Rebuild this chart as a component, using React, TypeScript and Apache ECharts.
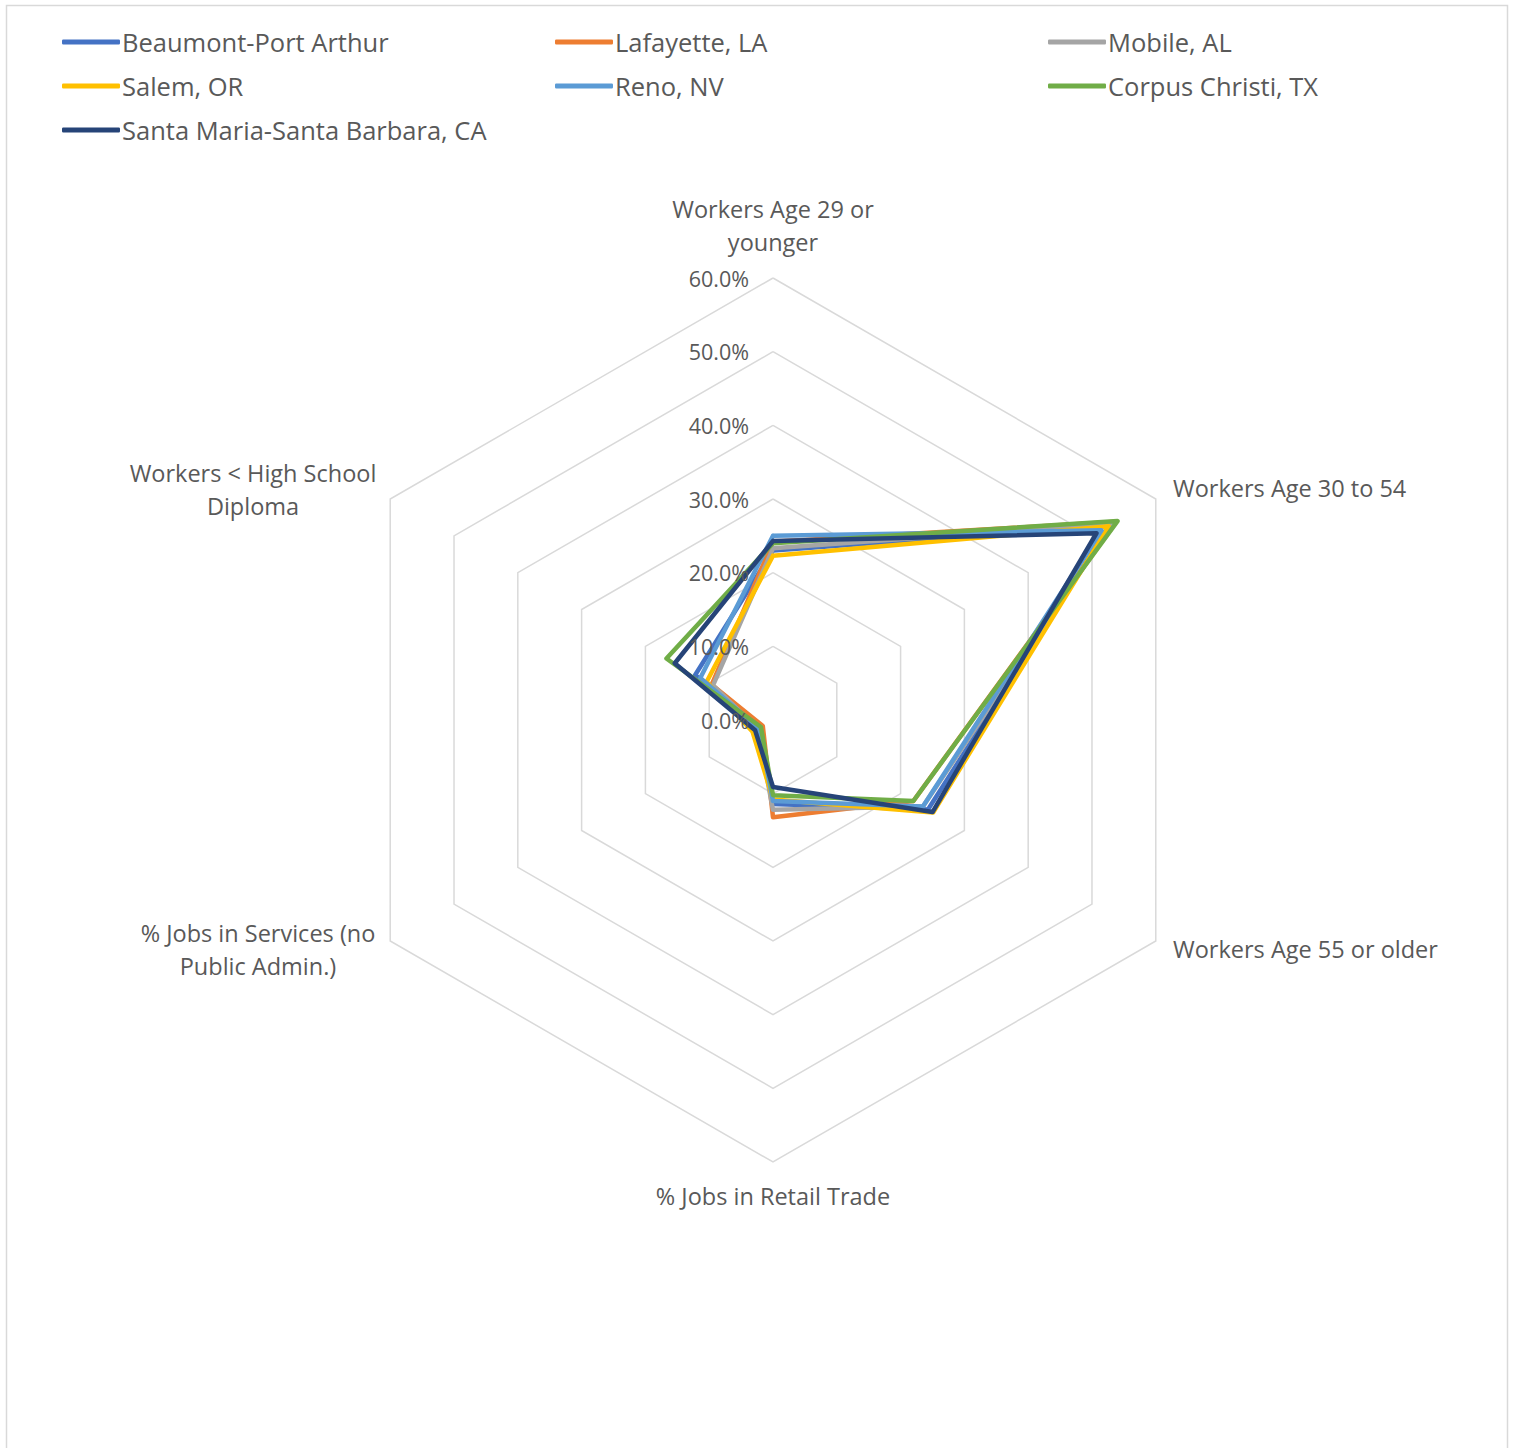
import React, { useEffect, useRef } from "react";
import * as echarts from "echarts";

// Axis categories in the reference's clockwise order, starting at the top
const CATEGORIES = [
  "Workers Age 29 or younger",
  "Workers Age 30 to 54",
  "Workers Age 55 or older",
  "% Jobs in Retail Trade",
  "% Jobs in Services (no Public Admin.)",
  "Workers < High School Diploma",
];
const TICKS = [0, 10, 20, 30, 40, 50, 60];

const SERIES_NAMES = [
  "Beaumont-Port Arthur",
  "Lafayette, LA",
  "Mobile, AL",
  "Salem, OR",
  "Reno, NV",
  "Corpus Christi, TX",
  "Santa Maria-Santa Barbara, CA",
];

// values (%) per category, in CATEGORIES order
const BEAUMONT = [23.0, 52.7, 24.3, 11.4, 2.3, 12.2];
const LAFAYETTE = [24.2, 53.8, 22.0, 13.2, 1.6, 9.6];
const MOBILE = [23.3, 53.2, 23.5, 12.2, 2.4, 9.4];
const SALEM = [22.3, 52.6, 25.1, 10.8, 3.2, 10.4];
const RENO = [25.0, 51.5, 23.5, 11.0, 2.2, 11.4];
const CORPUS = [24.0, 54.0, 22.0, 10.2, 1.9, 16.7];
const SANTA_MARIA = [24.3, 50.7, 25.0, 9.1, 2.8, 15.4];

const VALUES = [BEAUMONT, LAFAYETTE, MOBILE, SALEM, RENO, CORPUS, SANTA_MARIA];
const COLORS = ["#4472C4", "#ED7D31", "#A5A5A5", "#FFC000", "#5B9BD5", "#70AD47", "#264478"];

// ECharts radar runs counter-clockwise; this maps to the reference's clockwise layout
const ECHARTS_ORDER = [0, 5, 4, 3, 2, 1];

const CENTER: [number, number] = [773, 720];
const RADIUS = 442;
const FONT = "'Open Sans', 'Noto Sans', sans-serif";
const TEXT_COLOR = "#595959";

// axis-name label layout
const NAME_LAYOUT = [
  { text: "Workers Age 29 or\nyounger", x: 773, y: 225, align: "center" },
  { text: "Workers Age 30 to 54", x: 1173, y: 488, align: "left" },
  { text: "Workers Age 55 or older", x: 1173, y: 949, align: "left" },
  { text: "% Jobs in Retail Trade", x: 773, y: 1196, align: "center" },
  { text: "% Jobs in Services (no\nPublic Admin.)", x: 258, y: 949, align: "center" },
  { text: "Workers < High School\nDiploma", x: 253, y: 489, align: "center" },
];

const LEGEND_COLUMNS = [
  { left: 62, items: [0, 3, 6] },
  { left: 555, items: [1, 4] },
  { left: 1048, items: [2, 5] },
];

export default function App() {
  const ref = useRef<HTMLDivElement>(null);

  useEffect(() => {
    if (!ref.current) return;
    const chart = echarts.init(ref.current, undefined, { renderer: "svg" });

    const indicator = ECHARTS_ORDER.map((i) => ({
      name: CATEGORIES[i],
      min: TICKS[0],
      max: TICKS[TICKS.length - 1],
    }));

    const data = VALUES.map((vals, s) => ({
      name: SERIES_NAMES[s],
      value: ECHARTS_ORDER.map((i) => vals[i]),
      symbol: "none",
      lineStyle: { color: COLORS[s], width: 4.5, join: "round", cap: "round" },
      itemStyle: { color: COLORS[s] },
    }));

    const legends = LEGEND_COLUMNS.map((col) => ({
      orient: "vertical",
      left: col.left,
      top: 27,
      padding: 0,
      itemGap: 14,
      itemWidth: 58,
      itemHeight: 5,
      icon: "roundRect",
      data: col.items.map((i) => SERIES_NAMES[i]),
      textStyle: {
        color: TEXT_COLOR,
        fontSize: 25.5,
        fontFamily: FONT,
        lineHeight: 30,
        padding: [0, 0, 0, -3],
      },
      selectedMode: false,
    }));

    const option: any = {
      animation: false,
      backgroundColor: "#ffffff",
      textStyle: { fontFamily: FONT },
      legend: legends,
      radar: {
        center: CENTER,
        radius: RADIUS,
        startAngle: 90,
        shape: "polygon",
        splitNumber: TICKS.length - 1,
        indicator,
        axisName: { show: false },
        axisLine: { show: false },
        axisTick: { show: false },
        axisLabel: { show: false },
        splitArea: { show: false },
        splitLine: { lineStyle: { color: "#D9D9D9", width: 1.5 } },
      },
      polar: { center: CENTER, radius: RADIUS },
      angleAxis: { show: false, startAngle: 90, min: 0, max: 360 },
      radiusAxis: {
        min: TICKS[0],
        max: TICKS[TICKS.length - 1],
        interval: TICKS[1] - TICKS[0],
        z: 10,
        axisLine: { show: false },
        axisTick: { show: false },
        splitLine: { show: false },
        axisLabel: {
          show: true,
          margin: 24,
          color: TEXT_COLOR,
          fontSize: 21.5,
          fontFamily: FONT,
          formatter: (v: number) => v.toFixed(1) + "%",
        },
      },
      graphic: [
        {
          type: "rect",
          shape: { x: 6.5, y: 5.5, width: 1501, height: 1500 },
          style: { fill: "none", stroke: "#D9D9D9", lineWidth: 1.5 },
          silent: true,
          z: -10,
        },
        ...NAME_LAYOUT.map((n) => ({
          type: "text",
          x: n.x,
          y: n.y,
          style: {
            text: n.text,
            fill: TEXT_COLOR,
            fontSize: 23.5,
            fontFamily: FONT,
            align: n.align,
            verticalAlign: "middle",
            lineHeight: 33,
          },
          silent: true,
        })),
      ],
      series: [
        {
          type: "radar",
          symbol: "none",
          data,
        },
      ],
    };

    chart.setOption(option);
    return () => chart.dispose();
  }, []);

  return (
    <div
      ref={ref}
      style={{ position: "absolute", left: 0, top: 0, width: 1515, height: 1448 }}
    />
  );
}
